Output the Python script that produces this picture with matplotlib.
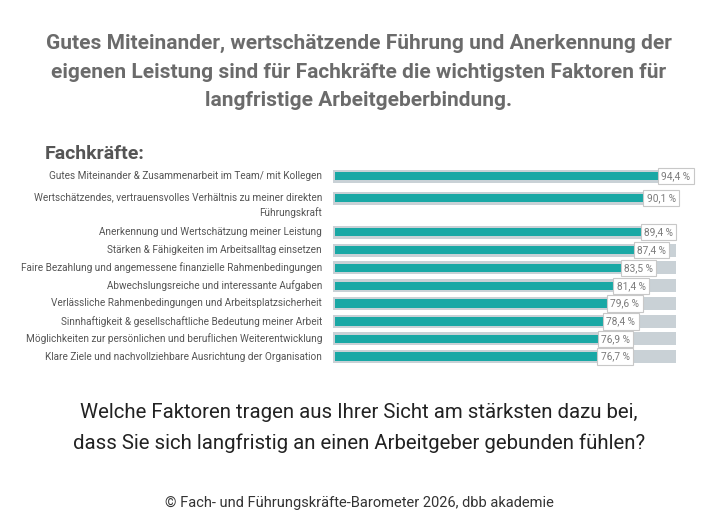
import matplotlib
matplotlib.use("Agg")
import matplotlib.pyplot as plt

plt.rcParams['font.family'] = ['Roboto', 'DejaVu Sans']

categories = [
    "Gutes Miteinander & Zusammenarbeit im Team/ mit Kollegen",
    "Wertschätzendes, vertrauensvolles Verhältnis zu meiner direkten\nFührungskraft",
    "Anerkennung und Wertschätzung meiner Leistung",
    "Stärken & Fähigkeiten im Arbeitsalltag einsetzen",
    "Faire Bezahlung und angemessene finanzielle Rahmenbedingungen",
    "Abwechslungsreiche und interessante Aufgaben",
    "Verlässliche Rahmenbedingungen und Arbeitsplatzsicherheit",
    "Sinnhaftigkeit & gesellschaftliche Bedeutung meiner Arbeit",
    "Möglichkeiten zur persönlichen und beruflichen Weiterentwicklung",
    "Klare Ziele und nachvollziehbare Ausrichtung der Organisation",
]
values = [94.4, 90.1, 89.4, 87.4, 83.5, 81.4, 79.6, 78.4, 76.9, 76.7]
value_labels = ["94,4 %", "90,1 %", "89,4 %", "87,4 %", "83,5 %",
                "81,4 %", "79,6 %", "78,4 %", "76,9 %", "76,7 %"]

title = ("Gutes Miteinander, wertschätzende Führung und Anerkennung der\n"
         "eigenen Leistung sind für Fachkräfte die wichtigsten Faktoren für\n"
         "langfristige Arbeitgeberbindung.")
subtitle = "Fachkräfte:"
question = ("Welche Faktoren tragen aus Ihrer Sicht am stärksten dazu bei,\n"
            "dass Sie sich langfristig an einen Arbeitgeber gebunden fühlen?")
footer = "© Fach- und Führungskräfte-Barometer 2026, dbb akademie"

TEAL = "#19a8a5"
TRACK = "#c9d1d6"
W, H = 710, 526

fig = plt.figure(figsize=(W / 100, H / 100), dpi=100)
fig.patch.set_facecolor("white")

# layout: row positions (pixel-like units), extra space after two-line label
gaps = [0, 22, 34, 18, 18, 18, 17.5, 18, 17.5, 17.5]
pos = []
y = 176
for g in gaps:
    y += g
    pos.append(y)

ax_left, ax_right = 333, 676
ax_top, ax_bot = 165, 366
ax = fig.add_axes([ax_left / W, 1 - ax_bot / H, (ax_right - ax_left) / W, (ax_bot - ax_top) / H])
ax.set_xlim(0, 100)
ax.set_ylim(ax_bot, ax_top)
ax.axis("off")

ax.barh(pos, [100] * len(values), height=13, color=TRACK, zorder=1)
ax.barh(pos, values, height=8.5, left=0.6, color=TEAL, zorder=2)

LBL = "#555555"
for p, v, lab, cat in zip(pos, values, value_labels, categories):
    ax.text(v + 1.3, p, lab, ha="left", va="center", fontsize=7.3, color="#7a7a7a",
            zorder=3,
            bbox=dict(boxstyle="square,pad=0.32", fc="white", ec="#c8c8c8", lw=0.8))
    lines = cat.split("\n")
    if len(lines) == 1:
        fig.text(322 / W, 1 - p / H, cat, ha="right", va="center", fontsize=7.2, color=LBL)
    else:
        fig.text(322 / W, 1 - (p - 1) / H, lines[0], ha="right", va="center", fontsize=7.2, color=LBL)
        fig.text(322 / W, 1 - (p + 15) / H, lines[1], ha="right", va="center", fontsize=7.2, color=LBL)

fig.text(359 / W, 1 - 72 / H, title, ha="center", va="center", fontsize=15,
         fontweight="bold", color="#6b6b6b", linespacing=1.62)
fig.text(45 / W, 1 - 154 / H, subtitle, ha="left", va="center", fontsize=14,
         fontweight="bold", color="#555555")
fig.text(359 / W, 1 - 428 / H, question, ha="center", va="center", fontsize=14.7,
         color="#222222", linespacing=1.74)
fig.text(359 / W, 1 - 503 / H, footer, ha="center", va="center", fontsize=10.5,
         color="#333333")

fig.savefig("out.png", dpi=100, facecolor="white")
